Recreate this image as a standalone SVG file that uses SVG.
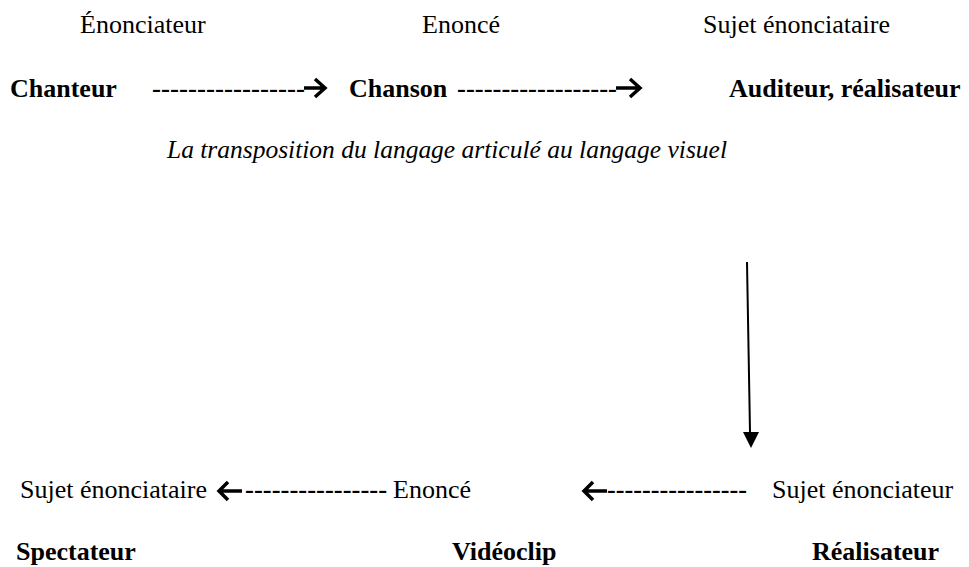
<svg xmlns="http://www.w3.org/2000/svg" width="969" height="567" viewBox="0 0 969 567">
<style>
text{font-family:"Liberation Serif","Times New Roman",serif;font-size:26px;fill:#000}
.b{font-weight:bold}
.i{font-style:italic}
.ah{fill:none;stroke:#000;stroke-width:3.5}
</style>
<rect width="969" height="567" fill="#fff"/>
<g id="enonciateur"><text x="80" y="33">Énonciateur</text></g>
<g id="enonce1"><text x="422" y="33">Enoncé</text></g>
<g id="sujet-enonciataire1"><text x="703" y="33">Sujet énonciataire</text></g>
<g id="chanteur"><text class="b" x="10" y="97">Chanteur</text></g>
<g id="chanson"><text class="b" x="349" y="97">Chanson</text></g>
<g id="auditeur"><text class="b" x="729" y="97">Auditeur, réalisateur</text></g>
<g id="transposition"><text class="i" x="167" y="158" textLength="560" lengthAdjust="spacingAndGlyphs">La transposition du langage articulé au langage visuel</text></g>
<g id="sujet-enonciataire2"><text x="20" y="498">Sujet énonciataire</text></g>
<g id="enonce2"><text x="393" y="498">Enoncé</text></g>
<g id="sujet-enonciateur"><text x="772" y="498">Sujet énonciateur</text></g>
<g id="spectateur"><text class="b" x="16" y="560">Spectateur</text></g>
<g id="videoclip"><text class="b" x="452" y="560">Vidéoclip</text></g>
<g id="realisateur"><text class="b" x="812" y="560">Réalisateur</text></g>
<g id="connectors">
<text class="b" x="152" y="97" textLength="153" lengthAdjust="spacingAndGlyphs">-----------------</text>
<path class="ah" d="M304 88H325M315 79L325 88L315 97"/>
<text class="b" x="457" y="97" textLength="160" lengthAdjust="spacingAndGlyphs">------------------</text>
<path class="ah" d="M616 88H640M630 79L640 88L630 97"/>
<path d="M747 262L750 432" stroke="#000" stroke-width="2" fill="none"/>
<path d="M743 432H759L751 448Z" fill="#000"/>
<path class="ah" d="M219 491H242M228 482L219 491L228 500"/>
<text class="b" x="245" y="498" textLength="142" lengthAdjust="spacingAndGlyphs">----------------</text>
<path class="ah" d="M584 491H607M593 482L584 491L593 500"/>
<text class="b" x="607" y="498" textLength="140" lengthAdjust="spacingAndGlyphs">----------------</text>
</g>
</svg>
